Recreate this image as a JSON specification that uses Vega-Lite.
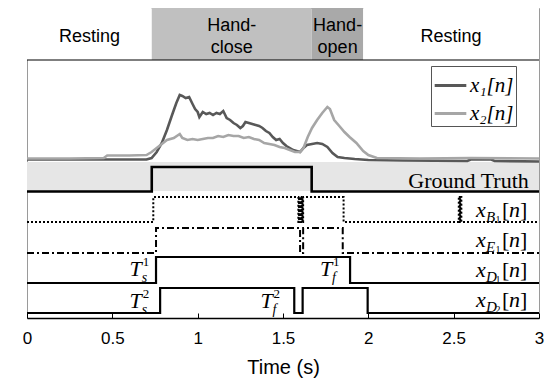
{
  "$schema": "https://vega.github.io/schema/vega-lite/v6.json",
  "width": 512,
  "height": 310,
  "autosize": "none",
  "padding": {"left": 27, "top": 8, "right": 11, "bottom": 64},
  "background": "white",
  "config": {
    "view": {"stroke": "#9a9a9a", "strokeWidth": 1},
    "axisX": {
      "tickCount": 6,
      "labelExpr": "format(datum.value, '~g')",
      "grid": false,
      "tickSize": -5,
      "tickColor": "black",
      "domainColor": "black",
      "domainWidth": 1.5,
      "labelFont": "Liberation Sans",
      "labelFontSize": 17,
      "labelColor": "black",
      "labelFlush": false,
      "labelPadding": 17,
      "titleFont": "Liberation Sans",
      "titleFontSize": 20,
      "titleFontWeight": "normal",
      "titleColor": "black",
      "titlePadding": 11
    }
  },
  "datasets": {
    "bands": [
      {"phase": "Resting", "start": 0, "end": 0.731, "mid": 0.366, "label": "Resting"},
      {"phase": "Hand-close", "start": 0.731, "end": 1.668, "mid": 1.2, "label": "Hand-\nclose"},
      {"phase": "Hand-open", "start": 1.668, "end": 1.97, "mid": 1.82, "label": "Hand-\nopen"},
      {"phase": "Resting2", "start": 1.97, "end": 3, "mid": 2.485, "label": "Resting"}
    ],
    "sig": [
      {"s": "x₁[n]", "t": 0, "v": 158.5}, {"s": "x₁[n]", "t": 0.2, "v": 158.5}, {"s": "x₁[n]", "t": 0.4, "v": 158.5},
      {"s": "x₁[n]", "t": 0.6, "v": 158.5}, {"s": "x₁[n]", "t": 0.7, "v": 158.5}, {"s": "x₁[n]", "t": 0.73, "v": 160},
      {"s": "x₁[n]", "t": 0.76, "v": 166}, {"s": "x₁[n]", "t": 0.79, "v": 175}, {"s": "x₁[n]", "t": 0.82, "v": 188},
      {"s": "x₁[n]", "t": 0.85, "v": 203}, {"s": "x₁[n]", "t": 0.875, "v": 215}, {"s": "x₁[n]", "t": 0.895, "v": 223},
      {"s": "x₁[n]", "t": 0.91, "v": 222}, {"s": "x₁[n]", "t": 0.93, "v": 220}, {"s": "x₁[n]", "t": 0.95, "v": 221},
      {"s": "x₁[n]", "t": 0.97, "v": 214}, {"s": "x₁[n]", "t": 0.985, "v": 209}, {"s": "x₁[n]", "t": 1.0, "v": 206},
      {"s": "x₁[n]", "t": 1.01, "v": 201}, {"s": "x₁[n]", "t": 1.03, "v": 206}, {"s": "x₁[n]", "t": 1.05, "v": 204},
      {"s": "x₁[n]", "t": 1.07, "v": 205}, {"s": "x₁[n]", "t": 1.09, "v": 203}, {"s": "x₁[n]", "t": 1.11, "v": 205},
      {"s": "x₁[n]", "t": 1.13, "v": 204}, {"s": "x₁[n]", "t": 1.15, "v": 207}, {"s": "x₁[n]", "t": 1.17, "v": 200},
      {"s": "x₁[n]", "t": 1.19, "v": 198}, {"s": "x₁[n]", "t": 1.21, "v": 195}, {"s": "x₁[n]", "t": 1.23, "v": 193},
      {"s": "x₁[n]", "t": 1.25, "v": 190}, {"s": "x₁[n]", "t": 1.265, "v": 192}, {"s": "x₁[n]", "t": 1.28, "v": 196},
      {"s": "x₁[n]", "t": 1.3, "v": 195}, {"s": "x₁[n]", "t": 1.32, "v": 194}, {"s": "x₁[n]", "t": 1.34, "v": 193},
      {"s": "x₁[n]", "t": 1.36, "v": 192}, {"s": "x₁[n]", "t": 1.38, "v": 190}, {"s": "x₁[n]", "t": 1.4, "v": 187},
      {"s": "x₁[n]", "t": 1.42, "v": 185}, {"s": "x₁[n]", "t": 1.44, "v": 181}, {"s": "x₁[n]", "t": 1.46, "v": 178},
      {"s": "x₁[n]", "t": 1.48, "v": 179}, {"s": "x₁[n]", "t": 1.5, "v": 175}, {"s": "x₁[n]", "t": 1.52, "v": 172},
      {"s": "x₁[n]", "t": 1.54, "v": 170}, {"s": "x₁[n]", "t": 1.56, "v": 168}, {"s": "x₁[n]", "t": 1.58, "v": 167},
      {"s": "x₁[n]", "t": 1.6, "v": 166}, {"s": "x₁[n]", "t": 1.62, "v": 170}, {"s": "x₁[n]", "t": 1.64, "v": 173},
      {"s": "x₁[n]", "t": 1.67, "v": 174}, {"s": "x₁[n]", "t": 1.7, "v": 175}, {"s": "x₁[n]", "t": 1.73, "v": 174},
      {"s": "x₁[n]", "t": 1.76, "v": 171}, {"s": "x₁[n]", "t": 1.79, "v": 165}, {"s": "x₁[n]", "t": 1.82, "v": 161},
      {"s": "x₁[n]", "t": 1.86, "v": 160}, {"s": "x₁[n]", "t": 1.92, "v": 159}, {"s": "x₁[n]", "t": 2.0, "v": 158},
      {"s": "x₁[n]", "t": 2.2, "v": 157.5}, {"s": "x₁[n]", "t": 2.58, "v": 157}, {"s": "x₁[n]", "t": 2.6, "v": 158.5},
      {"s": "x₁[n]", "t": 2.72, "v": 158.5}, {"s": "x₁[n]", "t": 2.74, "v": 157}, {"s": "x₁[n]", "t": 3.0, "v": 156.5},
      {"s": "x₂[n]", "t": 0, "v": 159.5}, {"s": "x₂[n]", "t": 0.25, "v": 159.5}, {"s": "x₂[n]", "t": 0.45, "v": 160},
      {"s": "x₂[n]", "t": 0.47, "v": 162.5}, {"s": "x₂[n]", "t": 0.6, "v": 162.5}, {"s": "x₂[n]", "t": 0.7, "v": 163},
      {"s": "x₂[n]", "t": 0.73, "v": 166}, {"s": "x₂[n]", "t": 0.76, "v": 170}, {"s": "x₂[n]", "t": 0.79, "v": 174},
      {"s": "x₂[n]", "t": 0.82, "v": 178}, {"s": "x₂[n]", "t": 0.86, "v": 180}, {"s": "x₂[n]", "t": 0.895, "v": 184},
      {"s": "x₂[n]", "t": 0.91, "v": 180}, {"s": "x₂[n]", "t": 0.94, "v": 178}, {"s": "x₂[n]", "t": 0.97, "v": 179},
      {"s": "x₂[n]", "t": 1.0, "v": 178}, {"s": "x₂[n]", "t": 1.03, "v": 179}, {"s": "x₂[n]", "t": 1.06, "v": 180},
      {"s": "x₂[n]", "t": 1.09, "v": 180}, {"s": "x₂[n]", "t": 1.12, "v": 182}, {"s": "x₂[n]", "t": 1.15, "v": 181},
      {"s": "x₂[n]", "t": 1.18, "v": 183}, {"s": "x₂[n]", "t": 1.21, "v": 182}, {"s": "x₂[n]", "t": 1.24, "v": 182},
      {"s": "x₂[n]", "t": 1.27, "v": 180}, {"s": "x₂[n]", "t": 1.3, "v": 181}, {"s": "x₂[n]", "t": 1.33, "v": 179},
      {"s": "x₂[n]", "t": 1.36, "v": 178}, {"s": "x₂[n]", "t": 1.39, "v": 175}, {"s": "x₂[n]", "t": 1.42, "v": 174},
      {"s": "x₂[n]", "t": 1.45, "v": 173}, {"s": "x₂[n]", "t": 1.48, "v": 171}, {"s": "x₂[n]", "t": 1.51, "v": 170},
      {"s": "x₂[n]", "t": 1.54, "v": 168}, {"s": "x₂[n]", "t": 1.57, "v": 166}, {"s": "x₂[n]", "t": 1.6, "v": 166},
      {"s": "x₂[n]", "t": 1.62, "v": 170}, {"s": "x₂[n]", "t": 1.645, "v": 181}, {"s": "x₂[n]", "t": 1.67, "v": 190},
      {"s": "x₂[n]", "t": 1.7, "v": 198}, {"s": "x₂[n]", "t": 1.73, "v": 205}, {"s": "x₂[n]", "t": 1.76, "v": 211},
      {"s": "x₂[n]", "t": 1.775, "v": 209}, {"s": "x₂[n]", "t": 1.8, "v": 198}, {"s": "x₂[n]", "t": 1.83, "v": 192},
      {"s": "x₂[n]", "t": 1.86, "v": 186}, {"s": "x₂[n]", "t": 1.89, "v": 181}, {"s": "x₂[n]", "t": 1.93, "v": 175},
      {"s": "x₂[n]", "t": 1.97, "v": 167}, {"s": "x₂[n]", "t": 2.0, "v": 163}, {"s": "x₂[n]", "t": 2.05, "v": 160},
      {"s": "x₂[n]", "t": 2.3, "v": 159.5}, {"s": "x₂[n]", "t": 2.6, "v": 160}, {"s": "x₂[n]", "t": 3.0, "v": 159.5}
    ],
    "steps": [
      {"trace": "GT", "t": 0, "v": 126.5}, {"trace": "GT", "t": 0.731, "v": 151}, {"trace": "GT", "t": 1.668, "v": 126.5}, {"trace": "GT", "t": 3, "v": 126.5},
      {"trace": "B1", "t": 0, "v": 96}, {"trace": "B1", "t": 0.74, "v": 121},
      {"trace": "B1", "t": 1.59, "v": 96}, {"trace": "B1", "t": 1.594, "v": 121}, {"trace": "B1", "t": 1.598, "v": 96},
      {"trace": "B1", "t": 1.602, "v": 121}, {"trace": "B1", "t": 1.606, "v": 96}, {"trace": "B1", "t": 1.61, "v": 121},
      {"trace": "B1", "t": 1.614, "v": 96}, {"trace": "B1", "t": 1.618, "v": 121},
      {"trace": "B1", "t": 1.855, "v": 96},
      {"trace": "B1", "t": 2.53, "v": 121}, {"trace": "B1", "t": 2.533, "v": 96}, {"trace": "B1", "t": 2.536, "v": 121},
      {"trace": "B1", "t": 2.539, "v": 96}, {"trace": "B1", "t": 2.542, "v": 121}, {"trace": "B1", "t": 2.545, "v": 96},
      {"trace": "B1", "t": 3, "v": 96},
      {"trace": "E1", "t": 0, "v": 65}, {"trace": "E1", "t": 0.756, "v": 90}, {"trace": "E1", "t": 1.6, "v": 65},
      {"trace": "E1", "t": 1.618, "v": 90}, {"trace": "E1", "t": 1.85, "v": 65}, {"trace": "E1", "t": 3, "v": 65},
      {"trace": "D1", "t": 0, "v": 35}, {"trace": "D1", "t": 0.756, "v": 61}, {"trace": "D1", "t": 1.893, "v": 35}, {"trace": "D1", "t": 3, "v": 35},
      {"trace": "D2", "t": 0, "v": 5}, {"trace": "D2", "t": 0.78, "v": 30}, {"trace": "D2", "t": 1.566, "v": 5},
      {"trace": "D2", "t": 1.615, "v": 30}, {"trace": "D2", "t": 1.996, "v": 5}, {"trace": "D2", "t": 3, "v": 5}
    ],
    "rlabels": [
      {"t": 2.631, "v": 108, "sub": "B", "subsub": "1"},
      {"t": 2.631, "v": 78, "sub": "E", "subsub": "1"},
      {"t": 2.631, "v": 48, "sub": "D", "subsub": "1"},
      {"t": 2.631, "v": 18, "sub": "D", "subsub": "2"}
    ],
    "tlabels": [
      {"t": 0.637, "v": 49, "sup": "1", "sub": "s"},
      {"t": 1.752, "v": 49, "sup": "1", "sub": "f"},
      {"t": 0.637, "v": 17, "sup": "2", "sub": "s"},
      {"t": 1.404, "v": 17, "sup": "2", "sub": "f"}
    ]
  },
  "layer": [
    {
      "data": {"name": "bands"},
      "mark": {"type": "rect"},
      "encoding": {
        "x": {"field": "start", "type": "quantitative", "scale": {"domain": [0, 3], "nice": false, "zero": false}, "title": "Time (s)"},
        "x2": {"field": "end"},
        "y": {"datum": 258, "type": "quantitative", "scale": {"domain": [0, 310], "nice": false, "zero": false}, "axis": null},
        "y2": {"datum": 310},
        "fill": {"field": "phase", "type": "nominal", "scale": {"domain": ["Resting", "Hand-close", "Hand-open", "Resting2"], "range": ["#ffffff", "#c0c0c0", "#a9a9a9", "#ffffff"]}, "legend": null}
      }
    },
    {
      "data": {"name": "bands"},
      "transform": [{"filter": "indexof(datum.label, '\\n') < 0"}],
      "mark": {"type": "text", "font": "Liberation Sans", "fontSize": 18, "baseline": "middle", "align": "center", "color": "black"},
      "encoding": {
        "x": {"field": "mid", "type": "quantitative", "title": "Time (s)"},
        "y": {"datum": 281, "type": "quantitative", "axis": null},
        "text": {"field": "label"}
      }
    },
    {
      "data": {"name": "bands"},
      "transform": [{"filter": "indexof(datum.label, '\\n') >= 0"}],
      "mark": {"type": "text", "font": "Liberation Sans", "fontSize": 18, "lineBreak": "\n", "lineHeight": 22, "baseline": "middle", "align": "center", "color": "black"},
      "encoding": {
        "x": {"field": "mid", "type": "quantitative", "title": "Time (s)"},
        "y": {"datum": 292, "type": "quantitative", "axis": null},
        "text": {"field": "label"}
      }
    },
    {
      "data": {"values": [{}]},
      "mark": {"type": "rect", "color": "#e6e6e6"},
      "encoding": {
        "x": {"datum": 0, "type": "quantitative", "title": "Time (s)"},
        "x2": {"datum": 3},
        "y": {"datum": 127, "type": "quantitative", "axis": null},
        "y2": {"datum": 156}
      }
    },
    {
      "data": {"values": [{}]},
      "mark": {"type": "rule", "color": "black", "strokeWidth": 1.2},
      "encoding": {
        "x": {"datum": 0, "type": "quantitative", "title": "Time (s)"},
        "x2": {"datum": 3},
        "y": {"datum": 258, "type": "quantitative", "axis": null}
      }
    },
    {
      "data": {"name": "sig"},
      "mark": {"type": "line", "strokeWidth": 2.6},
      "encoding": {
        "x": {"field": "t", "type": "quantitative", "title": "Time (s)"},
        "y": {"field": "v", "type": "quantitative", "axis": null},
        "color": {
          "field": "s", "type": "nominal",
          "scale": {"domain": ["x₁[n]", "x₂[n]"], "range": ["#585858", "#a6a6a6"]},
          "legend": {
            "orient": "none", "legendX": 404, "legendY": 58, "title": null,
            "symbolType": "stroke", "symbolSize": 1000, "symbolStrokeWidth": 3,
            "labelFont": "Liberation Serif", "labelFontStyle": "italic", "labelFontSize": 21, "labelColor": "black",
            "strokeColor": "#555555", "fillColor": "white", "padding": 2, "rowPadding": -12, "labelOffset": 2
          }
        }
      }
    },
    {
      "data": {"name": "steps"},
      "transform": [{"filter": "datum.trace === 'GT'"}],
      "mark": {"type": "line", "interpolate": "step-after", "color": "black", "strokeWidth": 2.6},
      "encoding": {
        "x": {"field": "t", "type": "quantitative", "title": "Time (s)"},
        "y": {"field": "v", "type": "quantitative", "axis": null}
      }
    },
    {
      "data": {"name": "steps"},
      "transform": [{"filter": "datum.trace === 'B1'"}],
      "mark": {"type": "line", "interpolate": "step-after", "color": "black", "strokeWidth": 2, "strokeDash": [2, 2]},
      "encoding": {
        "x": {"field": "t", "type": "quantitative", "title": "Time (s)"},
        "y": {"field": "v", "type": "quantitative", "axis": null}
      }
    },
    {
      "data": {"name": "steps"},
      "transform": [{"filter": "datum.trace === 'E1'"}],
      "mark": {"type": "line", "interpolate": "step-after", "color": "black", "strokeWidth": 2, "strokeDash": [7, 3, 2, 3]},
      "encoding": {
        "x": {"field": "t", "type": "quantitative", "title": "Time (s)"},
        "y": {"field": "v", "type": "quantitative", "axis": null}
      }
    },
    {
      "data": {"name": "steps"},
      "transform": [{"filter": "datum.trace === 'D1' || datum.trace === 'D2'"}],
      "mark": {"type": "line", "interpolate": "step-after", "color": "black", "strokeWidth": 2.2},
      "encoding": {
        "x": {"field": "t", "type": "quantitative", "title": "Time (s)"},
        "y": {"field": "v", "type": "quantitative", "axis": null},
        "detail": {"field": "trace"}
      }
    },
    {
      "data": {"values": [{}]},
      "mark": {"type": "text", "font": "Liberation Serif", "fontSize": 22, "align": "right", "baseline": "middle", "color": "black"},
      "encoding": {
        "x": {"datum": 2.94, "type": "quantitative", "title": "Time (s)"},
        "y": {"datum": 137, "type": "quantitative", "axis": null},
        "text": {"value": "Ground Truth"}
      }
    },
    {
      "data": {"name": "rlabels"},
      "mark": {"type": "text", "font": "Liberation Serif", "fontStyle": "italic", "fontSize": 22, "align": "left", "baseline": "middle", "color": "black"},
      "encoding": {
        "x": {"field": "t", "type": "quantitative", "title": "Time (s)"},
        "y": {"field": "v", "type": "quantitative", "axis": null},
        "text": {"value": "x"}
      }
    },
    {
      "data": {"name": "rlabels"},
      "mark": {"type": "text", "font": "Liberation Serif", "fontStyle": "italic", "fontSize": 15, "align": "left", "baseline": "middle", "dx": 10, "dy": 7, "color": "black"},
      "encoding": {
        "x": {"field": "t", "type": "quantitative", "title": "Time (s)"},
        "y": {"field": "v", "type": "quantitative", "axis": null},
        "text": {"field": "sub"}
      }
    },
    {
      "data": {"name": "rlabels"},
      "mark": {"type": "text", "font": "Liberation Serif", "fontSize": 10, "align": "left", "baseline": "middle", "dx": 19.5, "dy": 10, "color": "black"},
      "encoding": {
        "x": {"field": "t", "type": "quantitative", "title": "Time (s)"},
        "y": {"field": "v", "type": "quantitative", "axis": null},
        "text": {"field": "subsub"}
      }
    },
    {
      "data": {"name": "rlabels"},
      "mark": {"type": "text", "font": "Liberation Serif", "fontSize": 22, "align": "left", "baseline": "middle", "dx": 26, "color": "black"},
      "encoding": {
        "x": {"field": "t", "type": "quantitative", "title": "Time (s)"},
        "y": {"field": "v", "type": "quantitative", "axis": null},
        "text": {"value": "["}
      }
    },
    {
      "data": {"name": "rlabels"},
      "mark": {"type": "text", "font": "Liberation Serif", "fontStyle": "italic", "fontSize": 22, "align": "left", "baseline": "middle", "dx": 33, "color": "black"},
      "encoding": {
        "x": {"field": "t", "type": "quantitative", "title": "Time (s)"},
        "y": {"field": "v", "type": "quantitative", "axis": null},
        "text": {"value": "n"}
      }
    },
    {
      "data": {"name": "rlabels"},
      "mark": {"type": "text", "font": "Liberation Serif", "fontSize": 22, "align": "left", "baseline": "middle", "dx": 44, "color": "black"},
      "encoding": {
        "x": {"field": "t", "type": "quantitative", "title": "Time (s)"},
        "y": {"field": "v", "type": "quantitative", "axis": null},
        "text": {"value": "]"}
      }
    },
    {
      "data": {"name": "tlabels"},
      "mark": {"type": "text", "font": "Liberation Serif", "fontStyle": "italic", "fontSize": 22, "align": "center", "baseline": "middle", "color": "black"},
      "encoding": {
        "x": {"field": "t", "type": "quantitative", "title": "Time (s)"},
        "y": {"field": "v", "type": "quantitative", "axis": null},
        "text": {"value": "T"}
      }
    },
    {
      "data": {"name": "tlabels"},
      "mark": {"type": "text", "font": "Liberation Serif", "fontSize": 13, "align": "left", "baseline": "middle", "dx": 7, "dy": -7, "color": "black"},
      "encoding": {
        "x": {"field": "t", "type": "quantitative", "title": "Time (s)"},
        "y": {"field": "v", "type": "quantitative", "axis": null},
        "text": {"field": "sup"}
      }
    },
    {
      "data": {"name": "tlabels"},
      "mark": {"type": "text", "font": "Liberation Serif", "fontStyle": "italic", "fontSize": 14, "align": "left", "baseline": "middle", "dx": 6, "dy": 9, "color": "black"},
      "encoding": {
        "x": {"field": "t", "type": "quantitative", "title": "Time (s)"},
        "y": {"field": "v", "type": "quantitative", "axis": null},
        "text": {"field": "sub"}
      }
    }
  ]
}
